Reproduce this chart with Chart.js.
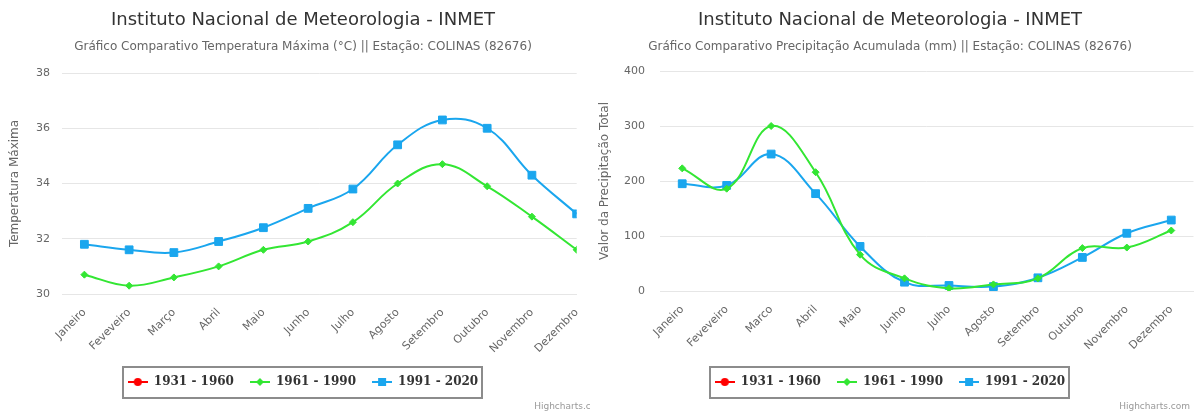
<!DOCTYPE html>
<html>
<head>
<meta charset="utf-8">
<script src="https://cdn.jsdelivr.net/npm/chart.js@4.4.1/dist/chart.umd.min.js"></script>
<style>
  body { margin: 0; background: #fff; }
  #wrap { position: relative; width: 1200px; height: 414px; overflow: hidden; }
  #tempChart { position: absolute; left: 0; top: 0; }
  #precChart { position: absolute; left: 590px; top: 0; }
</style>
</head>
<body>
<div id="wrap">
  <canvas id="tempChart" width="590" height="414"></canvas>
  <canvas id="precChart" width="610" height="414"></canvas>
</div>
<script>
// categorias (mesmo texto do gráfico original)
const monthsTemp = ['Janeiro', 'Feveveiro', 'Março', 'Abril', 'Maio', 'Junho', 'Julho', 'Agosto', 'Setembro', 'Outubro', 'Novembro', 'Dezembro'];
const monthsPrec = ['Janeiro', 'Feveveiro', 'Marco', 'Abril', 'Maio', 'Junho', 'Julho', 'Agosto', 'Setembro', 'Outubro', 'Novembro', 'Dezembro'];

const seriesNames = ['1931 - 1960', '1961 - 1990', '1991 - 2020'];

// Temperatura máxima (°C)
const temp3160 = [null, null, null, null, null, null, null, null, null, null, null, null];
const temp6190 = [30.7, 30.3, 30.6, 31.0, 31.6, 31.9, 32.6, 34.0, 34.7, 33.9, 32.8, 31.6];
const temp9120 = [31.8, 31.6, 31.5, 31.9, 32.4, 33.1, 33.8, 35.4, 36.3, 36.0, 34.3, 32.9];

// Precipitação acumulada (mm)
const prec3160 = [null, null, null, null, null, null, null, null, null, null, null, null];
const prec6190 = [223, 186, 300, 216, 66, 23, 5, 12, 23, 78, 79, 110];
const prec9120 = [195, 192, 249, 177, 81, 16, 10, 8, 24, 61, 105, 129];

const tempTicks = [30, 32, 34, 36, 38];
const precTicks = [0, 100, 200, 300, 400];

const RED = '#ff0000';
const GREEN = '#33e633';
const BLUE = '#1aa6ee';
const FONT = '"DejaVu Sans", sans-serif';

// legend symbols: line with marker in the middle
function legendIcon(color, shape) {
    const c = document.createElement('canvas');
    c.width = 20;
    c.height = 12;
    const g = c.getContext('2d');
    g.strokeStyle = color;
    g.fillStyle = color;
    g.lineWidth = 2;
    g.beginPath();
    g.moveTo(0, 6);
    g.lineTo(20, 6);
    g.stroke();
    g.beginPath();
    if (shape === 'circle') {
        g.arc(10, 6, 4, 0, Math.PI * 2);
    } else if (shape === 'diamond') {
        g.moveTo(10, 2); g.lineTo(14, 6); g.lineTo(10, 10); g.lineTo(6, 6);
        g.closePath();
    } else {
        g.rect(6, 2, 8, 8);
    }
    g.fill();
    return c;
}
const icons = [legendIcon(RED, 'circle'), legendIcon(GREEN, 'diamond'), legendIcon(BLUE, 'square')];

// centers title/subtitle/legend on a given x, draws legend frame and credits
const framePlugin = {
    id: 'frame',
    afterLayout(chart, args, opts) {
        chart.boxes.forEach(b => {
            if (b instanceof Chart.Scale) return;
            const w = b.right - b.left;
            b.left = opts.centerX - w / 2;
            b.right = opts.centerX + w / 2;
        });
    },
    afterDraw(chart, args, opts) {
        const lg = chart.legend;
        const ctx = chart.ctx;
        const pad = lg.options.labels.padding;
        const rowW = lg.lineWidths[0] - pad;
        const cx = (lg.left + lg.right) / 2;
        const cy = lg.top + pad + 6;
        ctx.save();
        ctx.strokeStyle = '#8c8c8c';
        ctx.lineWidth = 2;
        ctx.strokeRect(Math.round(cx - rowW / 2 - 5), Math.round(cy - 15.5), Math.round(rowW + 9), 31);
        ctx.font = '9px ' + FONT;
        ctx.fillStyle = '#999999';
        ctx.textAlign = 'right';
        ctx.textBaseline = 'alphabetic';
        ctx.fillText('Highcharts.com', opts.creditX, chart.height - 5);
        ctx.restore();
    }
};

function toXY(values) {
    return values.map((v, i) => ({ x: i, y: v }));
}

function makeDatasets(a, b, c) {
    return [
        { label: seriesNames[0], data: toXY(a), borderColor: RED, backgroundColor: RED, pointStyle: 'circle', pointRadius: 4 },
        { label: seriesNames[1], data: toXY(b), borderColor: GREEN, backgroundColor: GREEN, pointStyle: 'rectRot', pointRadius: 3.5 },
        { label: seriesNames[2], data: toXY(c), borderColor: BLUE, backgroundColor: BLUE, pointStyle: 'rect', pointRadius: 5.5 }
    ];
}

function makeConfig(o) {
    return {
        type: 'line',
        data: { datasets: makeDatasets(o.s1, o.s2, o.s3) },
        options: {
            responsive: false,
            animation: false,
            layout: { padding: { left: 0, right: o.padRight, top: 0, bottom: 16 } },
            elements: {
                line: { borderWidth: 2, tension: 0.4 },
                point: { borderWidth: 1 }
            },
            scales: {
                x: {
                    type: 'linear',
                    min: -0.5,
                    max: o.xMax,
                    afterBuildTicks: s => { s.ticks = o.months.map((m, i) => ({ value: i })); },
                    afterFit: s => { s.height = o.xHeight; },
                    grid: { display: false },
                    border: { display: true, color: '#e6e6e6' },
                    ticks: {
                        autoSkip: false,
                        minRotation: 45,
                        maxRotation: 45,
                        padding: 4,
                        color: '#666666',
                        font: { family: FONT, size: 11 },
                        callback: v => o.months[v]
                    }
                },
                y: {
                    min: o.yTicks[0],
                    max: o.yTicks[o.yTicks.length - 1],
                    afterBuildTicks: s => { s.ticks = o.yTicks.map(v => ({ value: v })); },
                    afterFit: s => { s.width = o.yWidth; },
                    grid: { color: '#e6e6e6', drawTicks: false },
                    border: { display: false },
                    ticks: {
                        padding: o.yPad,
                        color: '#666666',
                        font: { family: FONT, size: 11 }
                    },
                    title: {
                        display: true,
                        text: o.yTitle,
                        color: '#666666',
                        font: { family: FONT, size: 12 },
                        padding: { top: 8, bottom: 0 }
                    }
                }
            },
            plugins: {
                tooltip: { enabled: false },
                title: {
                    display: true,
                    text: 'Instituto Nacional de Meteorologia - INMET',
                    color: '#333333',
                    font: { family: FONT, size: 18, weight: 'normal' },
                    padding: { top: 10, bottom: 0 }
                },
                subtitle: {
                    display: true,
                    text: o.subtitle,
                    color: '#666666',
                    font: { family: FONT, size: 12 },
                    padding: { top: 8, bottom: o.subPadBottom }
                },
                legend: {
                    position: 'bottom',
                    labels: {
                        usePointStyle: true,
                        pointStyleWidth: 20,
                        padding: 16,
                        color: '#333333',
                        font: { family: '"DejaVu Serif", serif', size: 12, weight: 'bold' },
                        generateLabels: chart => Chart.defaults.plugins.legend.labels.generateLabels(chart)
                            .map((l, i) => Object.assign(l, { pointStyle: icons[i] }))
                    }
                },
                frame: { centerX: o.centerX, creditX: o.creditX }
            }
        },
        plugins: [framePlugin]
    };
}

new Chart(document.getElementById('tempChart'), makeConfig({
    months: monthsTemp,
    s1: temp3160, s2: temp6190, s3: temp9120,
    yTicks: tempTicks,
    yTitle: 'Temperatura Máxima',
    subtitle: 'Gráfico Comparativo Temperatura Máxima (°C) || Estação: COLINAS (82676)',
    xMax: 11,
    padRight: 10,
    yWidth: 62,
    yPad: 12,
    xHeight: 66,
    subPadBottom: 19,
    centerX: 303,
    creditX: 605
}));

new Chart(document.getElementById('precChart'), makeConfig({
    months: monthsPrec,
    s1: prec3160, s2: prec6190, s3: prec9120,
    yTicks: precTicks,
    yTitle: 'Valor da Precipitação Total',
    subtitle: 'Gráfico Comparativo Precipitação Acumulada (mm) || Estação: COLINAS (82676)',
    xMax: 11.5,
    padRight: 5,
    yWidth: 70,
    yPad: 15,
    xHeight: 69,
    subPadBottom: 17,
    centerX: 300,
    creditX: 600
}));
</script>
</body>
</html>
